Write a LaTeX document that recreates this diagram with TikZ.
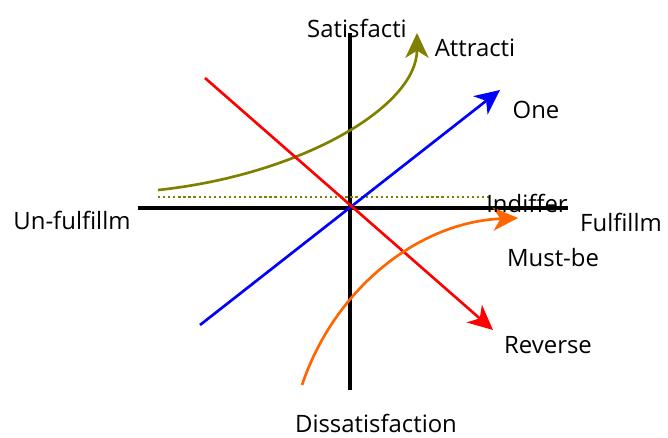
\documentclass[tikz,border=0pt]{standalone}
\usepackage{fontspec}
\setmainfont{Open Sans}
\usepackage{xcolor}
\usepackage{tikz}
\usetikzlibrary{arrows.meta, positioning}
\definecolor{attrolive}{RGB}{128,128,0}
\definecolor{onedblue}{RGB}{0,0,255}
\definecolor{revred}{RGB}{255,0,0}
\definecolor{mustorange}{RGB}{255,102,0}
\tikzset{
  axisline/.style={line width=2.8pt, black},
  curveline/.style={line width=1.9pt},
  bigtip/.style={-{Stealth[length=0.62cm, width=0.58cm, inset=0.18cm]}},
  lbl/.style={font=\fontsize{17}{19}\selectfont, inner sep=0pt},
}

\begin{document}
\begin{tikzpicture}[x=0.025cm, y=0.025cm]
  \useasboundingbox (0,0) rectangle (668,437);

  %% axes
  \coordinate (top) at (350,404);
  \coordinate (bottom) at (350,47);
  \coordinate (left) at (138,229);
  \coordinate (right) at (568,229);
  \draw[axisline] (bottom) -- (top);
  \draw[axisline] (left) -- (right);

  %% curves
  \coordinate (attrA) at (158,247);
  \coordinate (attrB) at (417,404);
  \coordinate (indA) at (158,240);
  \coordinate (indB) at (490,240);
  \coordinate (oneA) at (200,112);
  \coordinate (oneB) at (500,347);
  \coordinate (revA) at (205,359);
  \coordinate (revB) at (493,107);
  \coordinate (mustA) at (302,52);
  \coordinate (mustB) at (518,219);

  \draw[line width=1.6pt, attrolive, dotted] (indA) -- (indB);
  \draw[curveline, attrolive, bigtip] (attrA) .. controls (300,262) and (417,330) .. (attrB);
  \draw[curveline, onedblue, bigtip] (oneA) -- (oneB);
  \draw[curveline, revred, bigtip] (revA) -- (revB);
  \draw[curveline, mustorange, bigtip] (mustA) .. controls (335,150) and (420,215) .. (mustB);

  %% labels
  \node[lbl] (sat) at (357,409) {Satisfacti};
  \node[lbl] (dissat) at (376,14) {Dissatisfaction};
  \node[lbl] (unful) at (72,217) {Un-fulfillm};
  \node[lbl] (ful) at (621,215) {Fulfillm};
  \node[lbl] (attr) at (475,389) {Attracti};
  \node[lbl] (one) at (536,327) {One};
  \node[lbl] (indiff) at (527,234) {Indiffer};
  \node[lbl] (must) at (553,179) {Must-be};
  \node[lbl] (rev) at (548,92) {Reverse};

\end{tikzpicture}
\end{document}
